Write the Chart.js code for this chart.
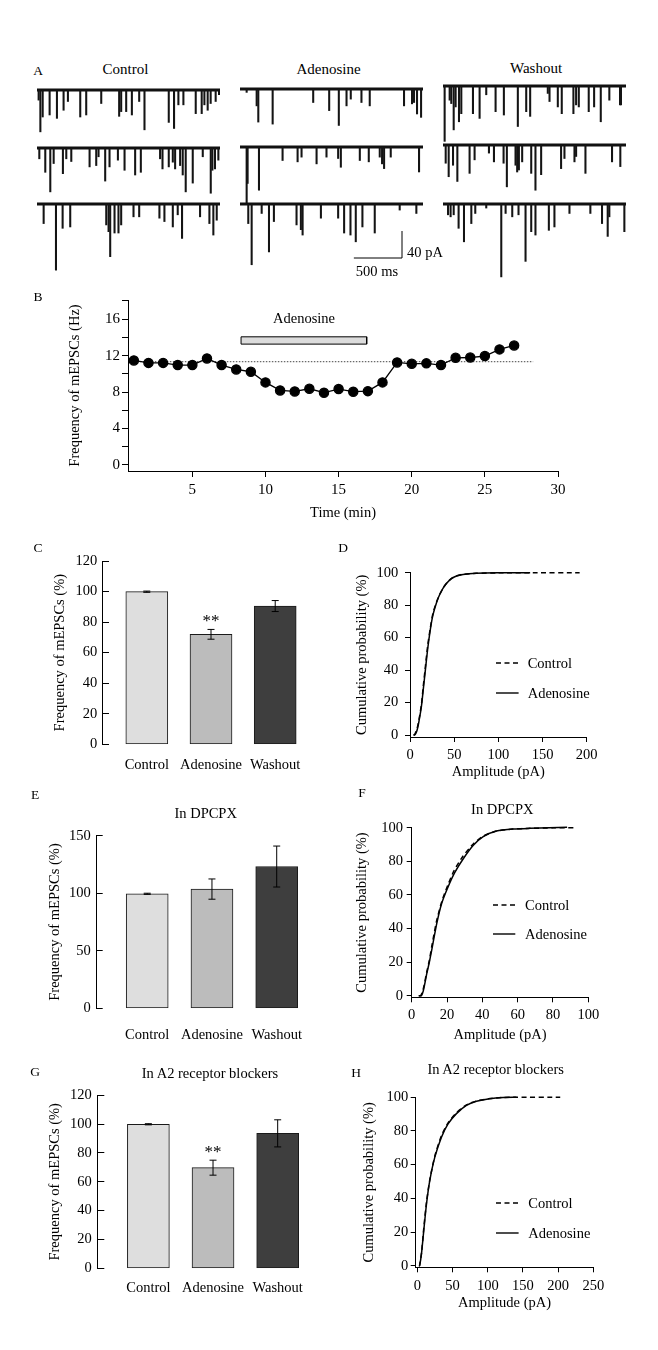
<!DOCTYPE html>
<html>
<head>
<meta charset="utf-8">
<script src="https://cdn.jsdelivr.net/npm/chart.js@4.4.1/dist/chart.umd.min.js"></script>
<style>
  body { margin: 0; background: #fff; }
  #fig { position: relative; width: 658px; height: 1350px; background: #fff; color: #000;
         font-family: 'Liberation Serif', 'Times New Roman', serif; overflow: hidden; }
  #fig canvas { position: absolute; }
  .c { position: absolute; transform: translate(-50%, -50%); white-space: nowrap; line-height: 1; }
  .l { position: absolute; transform: translate(0, -50%); white-space: nowrap; line-height: 1; font-size: 14.5px; }
  svg.key { position: absolute; overflow: visible; }
</style>
</head>
<body>
<div id="fig"></div>
<script>
// ---- A: mEPSC events, [time (ms), amplitude (pA)] ----
const ctrlRow1 = [[17,15],[35,62],[59,40],[131,37],[207,42],[276,30],[321,17],[449,40],[511,37],[667,20],[853,39],[874,32],[926,32],[985,37],[1061,17],[1116,59],[1368,48],[1423,57],[1468,22],[1520,22],[1648,35],[1710,35],[1738,22],[1772,30],[1803,20],[1855,17],[1890,7]];
const ctrlRow2 = [[24,16],[86,36],[138,65],[173,23],[269,38],[304,16],[356,20],[546,28],[615,26],[639,13],[708,49],[753,28],[840,18],[909,33],[1019,40],[1078,36],[1278,16],[1303,31],[1368,28],[1410,21],[1434,31],[1486,26],[1513,40],[1544,65],[1617,52],[1721,13],[1804,67],[1821,33],[1848,31],[1883,18]];
const ctrlRow3 = [[69,29],[197,98],[266,36],[345,34],[719,31],[743,41],[760,78],[805,43],[846,43],[874,31],[1002,19],[1061,19],[1271,21],[1323,26],[1410,34],[1461,16],[1506,51],[1693,19],[1790,29],[1831,46],[1866,24]];
const adenRow1 = [[69,5],[173,25],[190,49],[339,52],[760,20],[926,32],[1026,54],[1106,25],[1150,15],[1261,20],[1347,25],[1703,25],[1786,22],[1807,20],[1838,37],[1880,42]];
const adenRow2 = [[69,84],[79,54],[197,64],[442,20],[598,22],[639,15],[795,25],[898,15],[1019,17],[1047,30],[1244,20],[1337,22],[1451,15],[1475,25],[1496,32],[1565,15],[1859,37]];
const adenRow3 = [[86,29],[121,90],[225,14],[301,71],[352,26],[587,31],[632,38],[650,46],[840,21],[1019,21],[1081,43],[1147,46],[1202,56],[1271,34],[1399,43],[1658,9],[1831,14]];
const washRow1 = [[17,82],[69,21],[86,26],[111,65],[131,31],[166,53],[190,41],[311,41],[380,48],[449,13],[546,38],[632,43],[777,60],[864,38],[905,45],[1088,11],[1106,23],[1192,31],[1233,41],[1354,41],[1382,28],[1410,31],[1513,38],[1569,31],[1638,53],[1727,21],[1838,28],[1848,28]];
const washRow2 = [[28,27],[59,47],[104,30],[149,54],[276,42],[328,22],[477,12],[529,25],[629,27],[663,62],[753,30],[770,40],[788,37],[822,25],[916,42],[960,67],[1019,44],[1226,35],[1261,20],[1365,25],[1382,17],[1479,42],[1755,25],[1841,32]];
const washRow3 = [[52,16],[79,19],[111,16],[162,36],[218,56],[294,29],[335,14],[449,6],[605,108],[650,14],[719,19],[784,16],[857,85],[916,41],[960,46],[1099,39],[1157,34],[1313,14],[1530,14],[1651,29],[1710,48],[1727,19],[1883,41]];
const traceLengthMs = 1900;
const scaleBarMs = 500;
const scaleBarPA = 40;

// ---- B: time course ----
const timeMin = [1,2,3,4,5,6,7,8,9,10,11,12,13,14,15,16,17,18,19,20,21,22,23,24,25,26,27];
const freqHz = [11.47,11.2,11.2,10.96,10.96,11.69,10.96,10.48,10.23,9.06,8.18,8.07,8.36,7.93,8.33,8.04,8.1,9.06,11.25,11.1,11.15,10.96,11.76,11.79,11.95,12.68,13.11];
const baselineMeanHz = 11.33;
const baselineSpanMin = [1, 28.3];
const adenosineOnMin = [8.33, 16.92];
const adenosineBarHz = [13.26, 14.06];
const ticksBy = [0,2,4,6,8,10,12,14,16,18];
const ticksBx = [5,10,15,20,25,30];

// ---- C, E, G: normalised frequency (%) ----
const conditions = ['Control', 'Adenosine', 'Washout'];
const barColors = ['#dedede', '#bcbcbc', '#3e3e3e'];
const freqC = [99.9, 72.0, 90.5];
const semC = [0.4, 3.2, 3.6];
const sigC = [false, true, false];
const freqE = [99.5, 103.6, 123.2];
const semE = [0.5, 8.8, 17.8];
const freqG = [99.9, 69.8, 93.6];
const semG = [0.4, 5.2, 9.4];
const sigG = [false, true, false];
const ticksC = [0,20,40,60,80,100,120];
const ticksE = [0,50,100,150];

// ---- D, F, H: cumulative amplitude distributions, [amplitude (pA), %] ----
const cdfDctrl = [[4,0],[5,0],[8,4],[10,9],[13,19],[15,30],[17,40],[20,55],[23,66],[26,75],[30,82],[34,87],[38,91],[42,94],[47,96.5],[52,98],[60,99],[75,99.6],[100,99.9],[140,100],[192,100]];
const cdfDaden = [[4,0],[6,0.5],[8,3],[10,8],[13,18],[15,28],[17,38],[20,53],[23,65],[26,74],[30,81.5],[34,87],[38,91],[42,93.8],[47,96.3],[52,97.8],[60,98.9],[75,99.6],[100,99.9],[136,100]];
const cdfFctrl = [[4,0],[5,0],[6,2],[7,6],[8.5,14],[10,21],[11.3,29],[14,44],[17,56],[20.5,66],[24,74.5],[29,83],[35,90.5],[40.5,95],[48,98],[57,99.2],[67,99.6],[80,99.9],[92,100]];
const cdfFaden = [[4,0],[5.5,0],[6.6,3],[8.5,13],[10,20],[11.3,27],[14.2,43],[17,55],[20.7,65],[24.5,73.5],[29.2,81.5],[34.9,89.5],[40.5,94.7],[48,98],[57.5,99.2],[67,99.6],[78,99.9],[88,100.3]];
const cdfHctrl = [[2,0],[3,0],[6,8],[9,22],[13,38],[17.6,51],[24.7,65],[34,77],[43.6,84.8],[55.5,90.8],[69.7,95.5],[84,97.8],[103,99.3],[122,99.9],[140,100],[203,100]];
const cdfHaden = [[2.5,0],[3.2,0],[5.8,7],[9.1,21],[12.9,36.5],[17.6,50.5],[24.7,64.3],[34.2,76.3],[43.6,84.2],[55.5,90.3],[69.7,95.2],[83.9,97.6],[102.8,99.2],[121.7,99.9],[140.7,100]];
const ticksCdfY = [0,20,40,60,80,100];
const ticksDx = [0,50,100,150,200];
const ticksFx = [0,20,40,60,80,100];
const ticksHx = [0,50,100,150,200,250];

const SERIF = "'Liberation Serif', 'Times New Roman', serif";
Chart.defaults.font.family = SERIF;
Chart.defaults.font.size = 14.5;
Chart.defaults.color = '#000';

const fig = document.getElementById('fig');

function makeCanvas(box) {
  const c = document.createElement('canvas');
  c.width = box.r - box.l;
  c.height = box.b - box.t;
  c.style.left = box.l + 'px';
  c.style.top = box.t + 'px';
  fig.appendChild(c);
  return c;
}

function text(str, x, y, size, left) {
  const d = document.createElement('div');
  d.className = left ? 'l' : 'c';
  d.textContent = str;
  d.style.left = x + 'px';
  d.style.top = y + 'px';
  if (size) d.style.fontSize = size + 'px';
  fig.appendChild(d);
}

function keyLine(x1, x2, y, dashed) {
  const ns = 'http://www.w3.org/2000/svg';
  const s = document.createElementNS(ns, 'svg');
  s.setAttribute('class', 'key');
  s.setAttribute('width', x2 - x1);
  s.setAttribute('height', 4);
  s.style.left = x1 + 'px';
  s.style.top = (y - 2) + 'px';
  const ln = document.createElementNS(ns, 'line');
  ln.setAttribute('x1', 0); ln.setAttribute('x2', x2 - x1);
  ln.setAttribute('y1', 2); ln.setAttribute('y2', 2);
  ln.setAttribute('stroke', '#000');
  ln.setAttribute('stroke-width', 1.4);
  if (dashed) ln.setAttribute('stroke-dasharray', '5 3.5');
  s.appendChild(ln);
  fig.appendChild(s);
}

// axis with fixed pixel size so the plot area lands where we want it
function axis(o) {
  const vertical = o.pos === 'left';
  return {
    type: 'linear', position: o.pos, min: o.min, max: o.max, offset: false,
    afterFit: s => { if (vertical) s.width = o.size; else s.height = o.size; },
    afterBuildTicks: s => { s.ticks = o.ticks.map(v => ({ value: v })); },
    grid: { display: !o.noLine, drawOnChartArea: false, drawTicks: !o.noLine, tickLength: o.tick || 0, tickColor: '#000', tickWidth: 1 },
    border: { display: !o.noLine, color: '#000', width: 1 },
    ticks: { padding: o.pad, color: '#000', autoSkip: false, maxRotation: 0, font: { size: o.fs || 14.5 }, callback: o.fmt || (v => v) },
    title: { display: !!o.title, text: o.title, color: '#000', font: { size: 14.5 },
             padding: vertical ? { top: o.titleGap, bottom: 0 } : { top: 0, bottom: o.titleGap } }
  };
}

function baseOptions(box, area) {
  return {
    responsive: false, animation: false, events: [],
    layout: { padding: { left: 0, bottom: 0, top: area.t - box.t, right: box.r - area.r } },
    plugins: { legend: { display: false }, tooltip: { enabled: false } }
  };
}

// ---------- A: traces ----------
const traceCols = [
  { x0: 37,  rows: [ctrlRow1, ctrlRow2, ctrlRow3], base: [89.5, 148, 204] },
  { x0: 240, rows: [adenRow1, adenRow2, adenRow3], base: [89.3, 147, 204] },
  { x0: 443, rows: [washRow1, washRow2, washRow3], base: [86, 145, 204] }
];
const pxPerPA = 0.675;

const scaleBarPlugin = {
  id: 'scaleBar',
  afterDatasetsDraw(chart, args, o) {
    if (!o || !o.show) return;
    const { ctx, scales: { x, y } } = chart;
    ctx.save();
    ctx.strokeStyle = '#000';
    ctx.lineWidth = 1;
    ctx.beginPath();
    ctx.moveTo(x.getPixelForValue(o.t), y.getPixelForValue(o.top));
    ctx.lineTo(x.getPixelForValue(o.t), y.getPixelForValue(o.top - scaleBarPA));
    ctx.lineTo(x.getPixelForValue(o.t - scaleBarMs), y.getPixelForValue(o.top - scaleBarPA));
    ctx.stroke();
    ctx.restore();
  }
};

traceCols.forEach((col, ci) => {
  col.rows.forEach((events, ri) => {
    const box = { l: col.x0, r: col.x0 + 183, t: col.base[ri] - 8, b: col.base[ri] + 82 };
    new Chart(makeCanvas(box), {
      type: 'bar',
      data: { datasets: [
        // each inward current drawn as a thin downward bar from the baseline
        { type: 'bar', data: events.map(([t, a]) => ({ x: t, y: -a })), backgroundColor: '#141414',
          borderWidth: 0, barThickness: 1.4, grouped: false },
        { type: 'line', data: [{ x: 0, y: 0 }, { x: traceLengthMs, y: 0 }], borderColor: '#111',
          borderWidth: 2.8, pointRadius: 0, clip: false }
      ] },
      options: {
        responsive: false, animation: false, events: [],
        layout: { padding: 0 },
        scales: {
          x: { type: 'linear', display: false, offset: false, min: 0, max: traceLengthMs },
          y: { type: 'linear', display: false, min: -82 / pxPerPA, max: 8 / pxPerPA }
        },
        plugins: { legend: { display: false }, tooltip: { enabled: false },
                   scaleBar: { show: ci === 1 && ri === 2, t: 1682, top: -40 } }
      },
      plugins: [scaleBarPlugin]
    });
  });
});

// ---------- B: time course ----------
{
  const box = { l: 30, t: 285, r: 580, b: 530 }, area = { l: 128, t: 300, r: 558, b: 471 };
  const opts = baseOptions(box, area);
  opts.scales = {
    x: axis({ pos: 'bottom', size: box.b - area.b, min: 0.6, max: 30, ticks: ticksBx, tick: 6, pad: 4, fs: 15, title: 'Time (min)', titleGap: 8.3 }),
    y: axis({ pos: 'left', size: area.l - box.l, min: -0.66, max: 18.1, ticks: ticksBy, tick: 6, pad: 2, fs: 15,
              title: 'Frequency of mEPSCs (Hz)', titleGap: 36.3, fmt: v => (v % 4 === 0 ? v : '') })
  };
  const [on, off] = adenosineOnMin, [lo, hi] = adenosineBarHz;
  new Chart(makeCanvas(box), {
    type: 'line',
    data: { datasets: [
      { data: timeMin.map((t, i) => ({ x: t, y: freqHz[i] })), borderColor: '#000', borderWidth: 1.3,
        pointRadius: 4.6, pointBackgroundColor: '#000', pointBorderColor: '#000', tension: 0, clip: false },
      { data: baselineSpanMin.map(t => ({ x: t, y: baselineMeanHz })), borderColor: '#444', borderWidth: 1,
        borderDash: [1.5, 1.5], pointRadius: 0 },
      { data: [{ x: on, y: lo }, { x: on, y: hi }, { x: off, y: hi }, { x: off, y: lo }, { x: on, y: lo }],
        fill: 'shape', backgroundColor: '#dcdcdc', borderColor: '#000', borderWidth: 1, pointRadius: 0, clip: false }
    ] },
    options: opts
  });
}

// ---------- C, E, G: bars ----------
const errorBars = {
  id: 'errorBars',
  afterDatasetsDraw(chart, args, o) {
    const { ctx, scales: { x, y } } = chart;
    ctx.save();
    ctx.strokeStyle = '#000';
    ctx.fillStyle = '#000';
    ctx.lineWidth = 1;
    o.values.forEach((v, i) => {
      const px = x.getPixelForValue(i + 1);
      const top = y.getPixelForValue(v + o.errors[i]);
      const bot = y.getPixelForValue(v - o.errors[i]);
      ctx.beginPath();
      ctx.moveTo(px, top); ctx.lineTo(px, bot);
      ctx.moveTo(px - 3.5, top); ctx.lineTo(px + 3.5, top);
      ctx.moveTo(px - 3.5, bot); ctx.lineTo(px + 3.5, bot);
      ctx.stroke();
      if (o.sig && o.sig[i]) {
        ctx.font = '17px ' + SERIF;
        ctx.textAlign = 'center';
        ctx.textBaseline = 'alphabetic';
        ctx.fillText('**', px, top - 3);
      }
    });
    ctx.restore();
  }
};

function barChart(box, area, values, errors, sig, yOpts, xOpts) {
  const opts = baseOptions(box, area);
  opts.scales = {
    x: axis(Object.assign({ pos: 'bottom', size: box.b - area.b, ticks: [1, 2, 3], noLine: true,
                            fmt: v => conditions[v - 1] }, xOpts)),
    y: axis(Object.assign({ pos: 'left', size: area.l - box.l, min: 0, title: 'Frequency of mEPSCs (%)' }, yOpts))
  };
  opts.plugins.errorBars = { values, errors, sig };
  new Chart(makeCanvas(box), {
    type: 'bar',
    data: { datasets: [{
      data: values.map((v, i) => ({ x: i + 1, y: v })),
      backgroundColor: barColors, borderColor: '#1a1a1a', borderWidth: 1, barThickness: 42, borderSkipped: false
    }] },
    options: opts,
    plugins: [errorBars]
  });
}

barChart({ l: 30, t: 540, r: 330, b: 785 }, { l: 102, t: 561, r: 310, b: 744.3 }, freqC, semC, sigC,
  { max: 120, ticks: ticksC, tick: -7, pad: 11.7, titleGap: 21.3 }, { min: 0.302, max: 3.542, pad: 12 });
barChart({ l: 30, t: 815, r: 330, b: 1050 }, { l: 96.7, t: 825, r: 310, b: 1008.3 }, freqE, semE, null,
  { max: 150, ticks: ticksE, tick: -6, pad: 12, titleGap: 16.3 }, { min: 0.22, max: 3.514, pad: 18 });
barChart({ l: 30, t: 1074, r: 330, b: 1310 }, { l: 97.3, t: 1085, r: 310, b: 1268.3 }, freqG, semG, sigG,
  { max: 120, ticks: ticksC, tick: -7, pad: 12.6, titleGap: 16.3 }, { min: 0.21, max: 3.5, pad: 11.3 });

// ---------- D, F, H: cumulative distributions ----------
function cdfChart(box, area, ctrl, aden, yOpts, xOpts) {
  const opts = baseOptions(box, area);
  opts.scales = {
    x: axis(Object.assign({ pos: 'bottom', size: box.b - area.b, tick: 5, title: 'Amplitude (pA)' }, xOpts)),
    y: axis(Object.assign({ pos: 'left', size: area.l - box.l, max: 100, ticks: ticksCdfY, tick: 5,
                            title: 'Cumulative probability (%)' }, yOpts))
  };
  const toXY = arr => arr.map(([a, p]) => ({ x: a, y: p }));
  new Chart(makeCanvas(box), {
    type: 'line',
    data: { datasets: [
      { label: 'Adenosine', data: toXY(aden), borderColor: '#000', borderWidth: 1.5, pointRadius: 0, tension: 0.2, clip: false },
      { label: 'Control', data: toXY(ctrl), borderColor: '#000', borderWidth: 1.5, borderDash: [5, 3.5], pointRadius: 0, tension: 0.2, clip: false }
    ] },
    options: opts
  });
}

cdfChart({ l: 340, t: 550, r: 620, b: 785 }, { l: 410, t: 572.7, r: 586.7, b: 737 }, cdfDctrl, cdfDaden,
  { min: -1.2, pad: 6.7, titleGap: 13 }, { min: 0, max: 200, ticks: ticksDx, pad: 4.3, titleGap: 4.3 });
cdfChart({ l: 340, t: 815, r: 620, b: 1050 }, { l: 411.7, t: 827.7, r: 588.3, b: 997.3 }, cdfFctrl, cdfFaden,
  { min: -0.95, pad: 3.7, titleGap: 13.6 }, { min: 0, max: 100, ticks: ticksFx, pad: 4, titleGap: 6.3 });
cdfChart({ l: 340, t: 1080, r: 620, b: 1320 }, { l: 415.7, t: 1097.3, r: 593.3, b: 1267.3 }, cdfHctrl, cdfHaden,
  { min: -0.95, pad: 2.4, titleGap: 20.3 }, { min: -2.4, max: 250, ticks: ticksHx, pad: 4.7, titleGap: 8 });

// ---------- text and legends ----------
[['A', 38, 71], ['B', 38, 297], ['C', 38, 548], ['D', 343, 548], ['E', 35, 795], ['F', 362, 793], ['G', 35, 1072], ['H', 356, 1073]]
  .forEach(([s, x, y]) => text(s, x, y, 13.5));
text('Control', 125.5, 69, 15);
text('Adenosine', 328.5, 69, 15);
text('Washout', 536, 68, 15);
text('40 pA', 407, 252, 14.5, true);
text('500 ms', 377, 271, 14.5);
text('Adenosine', 304, 318, 14.5);
text('In DPCPX', 205.7, 813, 14.5);
text('In DPCPX', 502.3, 809, 14.5);
text('In A2 receptor blockers', 210, 1073, 14.5);
text('In A2 receptor blockers', 495.7, 1069, 14.5);

[[495.7, 518.3, 663.3, 693.3, 527.7], [492.7, 515, 905, 934, 525], [495.7, 518.3, 1203.3, 1233.3, 528.3]]
  .forEach(([x1, x2, yc, ya, tx]) => {
    keyLine(x1, x2, yc, true);
    keyLine(x1, x2, ya, false);
    text('Control', tx, yc, 14.5, true);
    text('Adenosine', tx, ya, 14.5, true);
  });
</script>
</body>
</html>
